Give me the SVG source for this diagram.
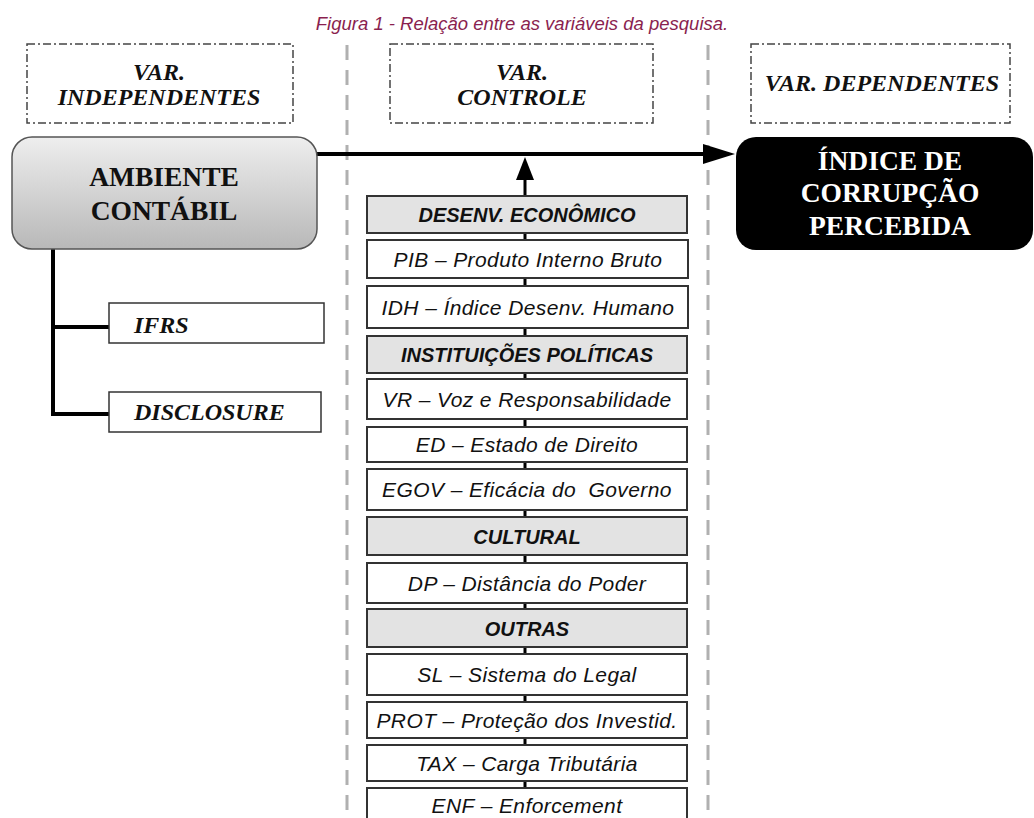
<svg xmlns="http://www.w3.org/2000/svg" width="1034" height="818" viewBox="0 0 1034 818">
<style>
.title{font-family:"Liberation Sans",Arial,sans-serif;font-style:italic;font-size:18.5px;fill:#8a1f4f}
.hdr{fill:none;stroke:#444;stroke-width:1.5;stroke-dasharray:8 3 2 3}
.hdrt{font-family:"Liberation Serif","Times New Roman",serif;font-style:italic;font-weight:bold;font-size:24px;fill:#111}
.sep{stroke:#b0b0b0;stroke-width:3;stroke-dasharray:15 10;fill:none}
.big{font-family:"Liberation Serif","Times New Roman",serif;font-weight:bold;font-size:27.5px}
.sub{fill:#fff;stroke:#333;stroke-width:1.5}
.subt{font-family:"Liberation Serif","Times New Roman",serif;font-style:italic;font-weight:bold;font-size:24px;fill:#111}
.cat rect{fill:#e3e3e3;stroke:#333;stroke-width:2}
.var rect{fill:#fff;stroke:#333;stroke-width:2}
.cat text{font-family:"Liberation Sans",Arial,sans-serif;font-style:italic;font-weight:bold;font-size:20px;fill:#111;text-anchor:middle}
.var text{font-family:"Liberation Sans",Arial,sans-serif;font-style:italic;font-size:21px;letter-spacing:0.4px;fill:#111;text-anchor:middle;white-space:pre}
.ln{stroke:#000;fill:none}
</style>
<defs>
<linearGradient id="g1" x1="0" y1="0" x2="0" y2="1">
<stop offset="0" stop-color="#eeeeee"/>
<stop offset="1" stop-color="#b8b8b8"/>
</linearGradient>
<marker id="ah" viewBox="0 0 32 20" markerWidth="32" markerHeight="20" refX="0" refY="10" markerUnits="userSpaceOnUse" orient="auto">
<path d="M0,0 L32,10 L0,20 z" fill="#000"/>
</marker>
<marker id="av" viewBox="0 0 23 18" markerWidth="23" markerHeight="18" refX="0" refY="9" markerUnits="userSpaceOnUse" orient="auto">
<path d="M0,0 L23,9 L0,18 z" fill="#000"/>
</marker>
</defs>
<rect width="1034" height="818" fill="#fff"/>
<text class="title" x="522" y="30" text-anchor="middle">Figura 1 - Relação entre as variáveis da pesquisa.</text>

<g id="separators">
<line class="sep" x1="347" y1="45" x2="347" y2="818"/>
<line class="sep" x1="708" y1="45" x2="708" y2="818"/>
</g>

<g id="hdr-indep">
<rect class="hdr" x="27" y="44" width="266" height="79"/>
<text class="hdrt" x="159" y="80" text-anchor="middle">VAR.</text>
<text class="hdrt" x="159" y="105" text-anchor="middle">INDEPENDENTES</text>
</g>
<g id="hdr-controle">
<rect class="hdr" x="390" y="44" width="263" height="79"/>
<text class="hdrt" x="522" y="80" text-anchor="middle">VAR.</text>
<text class="hdrt" x="522" y="105" text-anchor="middle">CONTROLE</text>
</g>
<g id="hdr-dep">
<rect class="hdr" x="751" y="44" width="259" height="79"/>
<text class="hdrt" x="882" y="91" text-anchor="middle">VAR. DEPENDENTES</text>
</g>

<g id="connectors">
<line class="ln" x1="317" y1="154" x2="703" y2="154" stroke-width="4" marker-end="url(#ah)"/>
<line class="ln" x1="525" y1="196" x2="525" y2="180" stroke-width="3" marker-end="url(#av)"/>
<line class="ln" x1="525" y1="196" x2="525" y2="800" stroke-width="3"/>
<path class="ln" d="M53,249 V416 M51,327 H109 M51,414 H109" stroke-width="4"/>
</g>

<g id="ambiente">
<rect x="12" y="137" width="305" height="112" rx="20" fill="url(#g1)" stroke="#555" stroke-width="1.5"/>
<text class="big" x="164" y="186" text-anchor="middle" fill="#111">AMBIENTE</text>
<text class="big" x="164" y="220" text-anchor="middle" fill="#111">CONTÁBIL</text>
</g>

<g id="indice">
<rect x="736" y="137" width="297" height="113" rx="20" fill="#000"/>
<text class="big" x="890" y="170" text-anchor="middle" fill="#fff">ÍNDICE DE</text>
<text class="big" x="890" y="202" text-anchor="middle" fill="#fff">CORRUPÇÃO</text>
<text class="big" x="890" y="235" text-anchor="middle" fill="#fff">PERCEBIDA</text>
</g>

<g id="ifrs">
<rect class="sub" x="109" y="303" width="215" height="40"/>
<text class="subt" x="134" y="333">IFRS</text>
</g>
<g id="disclosure">
<rect class="sub" x="109" y="392" width="212" height="40"/>
<text class="subt" x="134" y="420">DISCLOSURE</text>
</g>

<g id="desenv" class="cat"><rect x="367" y="196" width="320" height="37"/><text x="527" y="222">DESENV. ECONÔMICO</text></g>
<g id="pib" class="var"><rect x="367" y="240" width="321" height="38"/><text x="528" y="267">PIB – Produto Interno Bruto</text></g>
<g id="idh" class="var"><rect x="367" y="286" width="321" height="42"/><text x="528" y="315">IDH – Índice Desenv. Humano</text></g>
<g id="inst" class="cat"><rect x="367" y="336" width="320" height="37"/><text x="527" y="362">INSTITUIÇÕES POLÍTICAS</text></g>
<g id="vr" class="var"><rect x="367" y="379" width="320" height="40"/><text x="527" y="407">VR – Voz e Responsabilidade</text></g>
<g id="ed" class="var"><rect x="367" y="427" width="320" height="35"/><text x="527" y="452">ED – Estado de Direito</text></g>
<g id="egov" class="var"><rect x="367" y="469" width="320" height="41"/><text x="527" y="497">EGOV – Eficácia do  Governo</text></g>
<g id="cultural" class="cat"><rect x="367" y="517" width="320" height="38"/><text x="527" y="544">CULTURAL</text></g>
<g id="dp" class="var"><rect x="367" y="563" width="320" height="40"/><text x="527" y="591">DP – Distância do Poder</text></g>
<g id="outras" class="cat"><rect x="367" y="609" width="320" height="38"/><text x="527" y="636">OUTRAS</text></g>
<g id="sl" class="var"><rect x="367" y="654" width="320" height="41"/><text x="527" y="682">SL – Sistema do Legal</text></g>
<g id="prot" class="var"><rect x="367" y="702" width="320" height="36"/><text x="527" y="728">PROT – Proteção dos Investid.</text></g>
<g id="tax" class="var"><rect x="367" y="745" width="320" height="36"/><text x="527" y="771">TAX – Carga Tributária</text></g>
<g id="enf" class="var"><rect x="367" y="788" width="320" height="40"/><text x="527" y="813">ENF – Enforcement</text></g>
</svg>
